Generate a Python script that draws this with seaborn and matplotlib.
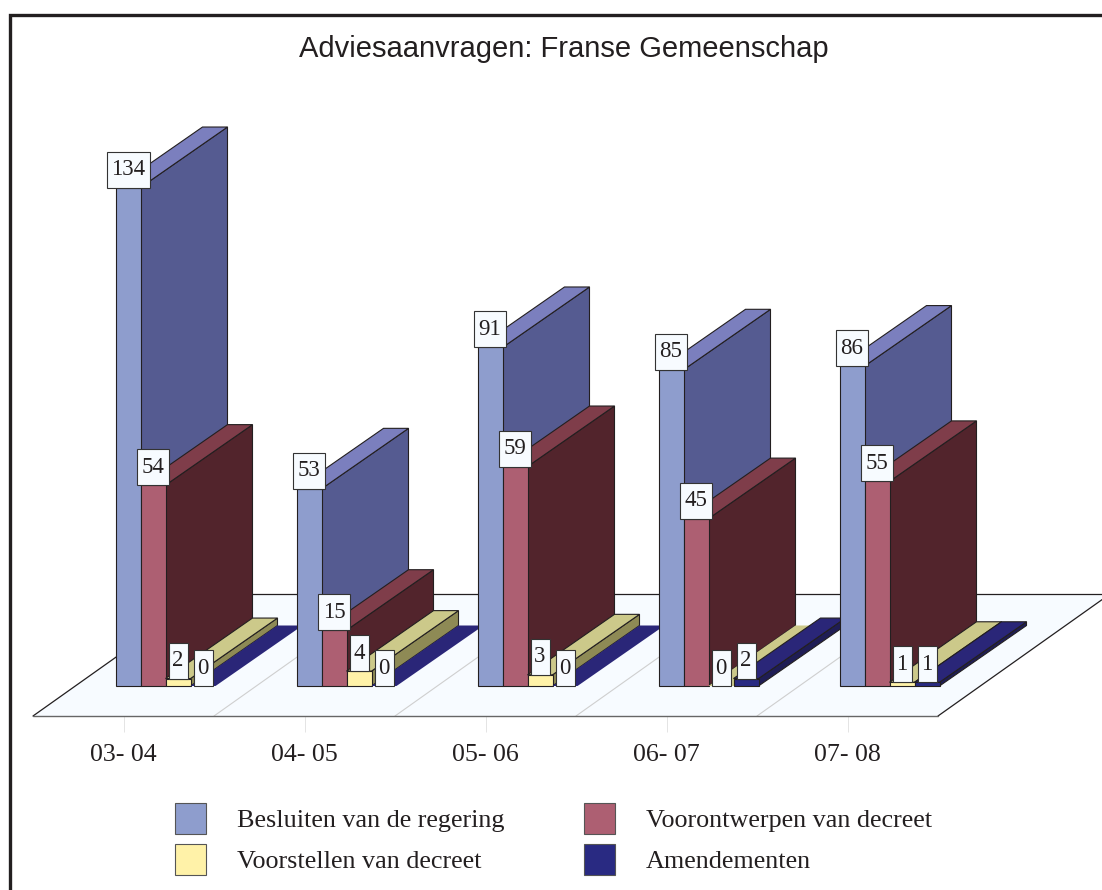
import matplotlib
matplotlib.use("Agg")
import matplotlib.pyplot as plt
from matplotlib.lines import Line2D
from matplotlib.patches import Patch, Polygon, Rectangle
import pandas as pd
import seaborn as sns

title = "Adviesaanvragen: Franse Gemeenschap"
years = ["03- 04", "04- 05", "05- 06", "06- 07", "07- 08"]
besluiten = [134, 53, 91, 85, 86]
voorontwerpen = [54, 15, 59, 45, 55]
voorstellen = [2, 4, 3, 0, 1]
amendementen = [0, 0, 0, 2, 1]
series_names = ["Besluiten van de regering", "Voorontwerpen van decreet",
                "Voorstellen van decreet", "Amendementen"]
series_values = [besluiten, voorontwerpen, voorstellen, amendementen]
front_colors = ["#8E9DCD", "#AD5F72", "#FFF2A8", "#292A82"]
side_colors = ["#555B91", "#52242C", "#8E8A55", "#1F1D55"]
top_colors = ["#7B7FBE", "#7F3D4A", "#CCC98A", "#2A2678"]

INK = "#231F20"
FLOOR = "#F7FBFF"
SERIF = "Liberation Serif"

W, H = 1102, 890
sns.set_theme(style="white")
plt.rcParams["font.family"] = [SERIF, "DejaVu Sans"]

# pixel scale of the plot region
PX_PER_CAT = 181.0
PX_PER_UNIT = 3.72
BASE_PY, FRONT_PY = 686, 716
LEFT_PX, RIGHT_PX = 33, 938
px_x = lambda p: p / PX_PER_CAT
px_y = lambda p: p / PX_PER_UNIT

fig = plt.figure(figsize=(W / 100, H / 100), dpi=100, facecolor="white")
ax = fig.add_axes([LEFT_PX / W, (H - FRONT_PY) / H, (RIGHT_PX - LEFT_PX) / W, FRONT_PY / H])
ax.patch.set_visible(False)

df = pd.DataFrame({
    "jaar": years * len(series_names),
    "aantal": [v for vals in series_values for v in vals],
    "reeks": [n for n in series_names for _ in years],
})
sns.barplot(data=df, x="jaar", y="aantal", hue="reeks", hue_order=series_names,
            order=years, palette=front_colors, saturation=1, width=100 / PX_PER_CAT,
            gap=0, dodge=True, legend=False, edgecolor=INK, linewidth=0.8, ax=ax)
ax.set_xlim(-0.5, len(years) - 0.5)
ax.set_ylim(-px_y(FRONT_PY - BASE_PY), px_y(BASE_PY))
ax.set_xlabel("")
ax.set_ylabel("")
ax.set_yticks([])
sns.despine(ax=ax, left=True, bottom=True)
ax.tick_params(axis="x", length=11.5, width=0.7, color="#E4E4E4", pad=9,
               labelsize=18.6, labelcolor=INK, bottom=True)

# floor of the 3D scene
y0 = -px_y(FRONT_PY - BASE_PY)
floor_dx, floor_dy = px_x(172), px_y(122)
x0, x1 = -0.5, len(years) - 0.5
ax.add_patch(Polygon([(x0, y0), (x1, y0), (x1 + floor_dx, y0 + floor_dy), (x0 + floor_dx, y0 + floor_dy)],
                     closed=True, facecolor=FLOOR, edgecolor="none", zorder=1, clip_on=False))
for i in range(1, len(years)):
    ax.plot([x0 + i, x0 + i + floor_dx], [y0, y0 + floor_dy], color="#CFCFCF", lw=0.8, zorder=2, clip_on=False)
ax.plot([x0 + floor_dx, x1 + floor_dx], [y0 + floor_dy] * 2, color=INK, lw=0.9, zorder=2, clip_on=False)
ax.plot([x0, x0 + floor_dx], [y0, y0 + floor_dy], color=INK, lw=0.9, zorder=2, clip_on=False)
ax.plot([x1, x1 + floor_dx], [y0, y0 + floor_dy], color=INK, lw=0.9, zorder=2, clip_on=False)
ax.plot([x0, x1], [y0, y0], color="#666666", lw=1.0, zorder=2, clip_on=False)

# 3D faces and value labels
shift = px_x(42)
dx, dy = px_x(87), px_y(60.5)
box_w = {1: 19, 2: 32, 3: 43}
box_h = px_y(36)
for s, container in enumerate(ax.containers):
    for g, bar in enumerate(container.patches):
        bar.set_x(bar.get_x() + shift)
        z = 10 * (g + 1) + s
        bar.set_zorder(z + 0.5)
        bar.set_clip_on(False)
        xa, xb, h = bar.get_x(), bar.get_x() + bar.get_width(), bar.get_height()
        edge = dict(edgecolor=INK, linewidth=0.8) if h > 0 else dict(edgecolor="none")
        ax.add_patch(Polygon([(xb, 0), (xb + dx, dy), (xb + dx, h + dy), (xb, h)], closed=True,
                             facecolor=side_colors[s], zorder=z, clip_on=False, **edge))
        ax.add_patch(Polygon([(xa, h), (xb, h), (xb + dx, h + dy), (xa + dx, h + dy)], closed=True,
                             facecolor=top_colors[s], zorder=z, clip_on=False, **edge))
        if h == 0:
            bar.set_edgecolor("none")
        label = str(int(h))
        w = px_x(box_w[len(label)])
        cx = (xa + xb) / 2
        ax.add_patch(Rectangle((cx - w / 2, h), w, box_h, facecolor=FLOOR, edgecolor="#333333",
                               linewidth=0.8, zorder=200 + g + s, clip_on=False))
        ax.text(cx, h + box_h / 2, label, ha="center", va="center", fontsize=16.5, color=INK,
                zorder=200.5 + g + s, clip_on=False)

# title, frame, legend
fig.text(564 / W, 1 - 49 / H, title, ha="center", va="center", fontsize=20.95,
         family="Liberation Sans", color=INK)
fig.add_artist(Line2D([10 / W, 10 / W, 1], [0, 1 - 14.5 / H, 1 - 14.5 / H], color=INK, lw=2.4,
                      solid_joinstyle="miter"))
handles = [Patch(facecolor=c, edgecolor="#555555", linewidth=0.8) for c in front_colors]
order = [0, 2, 1, 3]
FS = 18.8
em = FS * 100 / 72
fig.legend([handles[i] for i in order], [series_names[i] for i in order], ncol=2, frameon=False,
           loc="lower left", bbox_to_anchor=(175 / W, 1 - 875 / H), bbox_transform=fig.transFigure,
           fontsize=FS, labelcolor=INK, borderpad=0, borderaxespad=0,
           handlelength=31 / em, handleheight=1.45, handletextpad=31 / em,
           columnspacing=79 / em, labelspacing=10 / em)

fig.savefig("out.png", dpi=100, facecolor="white")
